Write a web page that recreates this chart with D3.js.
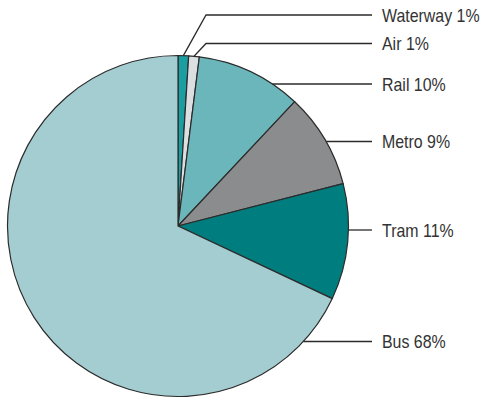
<!DOCTYPE html>
<html>
<head>
<meta charset="utf-8">
<script src="https://cdn.jsdelivr.net/npm/d3@7"></script>
<style>
  html, body { margin: 0; padding: 0; background: #fff; }
  svg { display: block; }
  text { font-family: "Liberation Sans", Arial, sans-serif; }
</style>
</head>
<body>
<svg id="chart" width="483" height="398"></svg>
<script>
// Modal share of trips, clockwise from 12 o'clock
const modes = ["Waterway", "Air", "Rail", "Metro", "Tram", "Bus"];
const shares = [1, 1, 10, 9, 11, 68];
const colors = ["#1a9ea2", "#dcdfe1", "#6bb6ba", "#8b8c8e", "#007e7f", "#a4cdd1"];

// Leader-line rows (layout), one per mode
const labelY = [15, 43.5, 84, 141.5, 230, 341.5];

const cx = 178, cy = 226, R = 170.5;
const lineEndX = 372, textX = 382, elbowX = 206;
const squeeze = 0.875; // condensed label type

const svg = d3.select("#chart");
const g = svg.append("g").attr("transform", `translate(${cx},${cy})`);

const data = modes.map((m, i) => ({ mode: m, value: shares[i], color: colors[i], ly: labelY[i] - cy }));

const pie = d3.pie().sort(null).value(d => d.value);
const arc = d3.arc().innerRadius(0).outerRadius(R);
const arcs = pie(data);

g.selectAll("path.slice")
  .data(arcs)
  .join("path")
  .attr("class", "slice")
  .attr("d", arc)
  .attr("fill", d => d.data.color)
  .attr("stroke", "#2b2b2b")
  .attr("stroke-width", 1.2)
  .attr("stroke-linejoin", "round");

// Leader lines: thin slices get an elbow from the arc midpoint,
// the rest run horizontally from where the label row meets the rim.
function leader(d) {
  const y = d.data.ly;
  const mid = (d.startAngle + d.endAngle) / 2;
  const span = d.endAngle - d.startAngle;
  if (span < 0.1) {
    const sx = R * Math.sin(mid), sy = -R * Math.cos(mid);
    return [[sx, sy], [elbowX - cx, y], [lineEndX - cx, y]];
  }
  const sx = Math.sqrt(Math.max(0, R * R - y * y));
  return [[sx, y], [lineEndX - cx, y]];
}

g.selectAll("path.leader")
  .data(arcs)
  .join("path")
  .attr("class", "leader")
  .attr("d", d => d3.line()(leader(d)))
  .attr("fill", "none")
  .attr("stroke", "#2b2b2b")
  .attr("stroke-width", 1.3);

g.selectAll("text.label")
  .data(arcs)
  .join("text")
  .attr("class", "label")
  .attr("transform", d => `translate(${textX - cx},${d.data.ly + 6.6}) scale(${squeeze},1)`)
  .attr("fill", "#333")
  .attr("font-size", 18.2)
  .text(d => `${d.data.mode} ${d.data.value}%`);
</script>
</body>
</html>
